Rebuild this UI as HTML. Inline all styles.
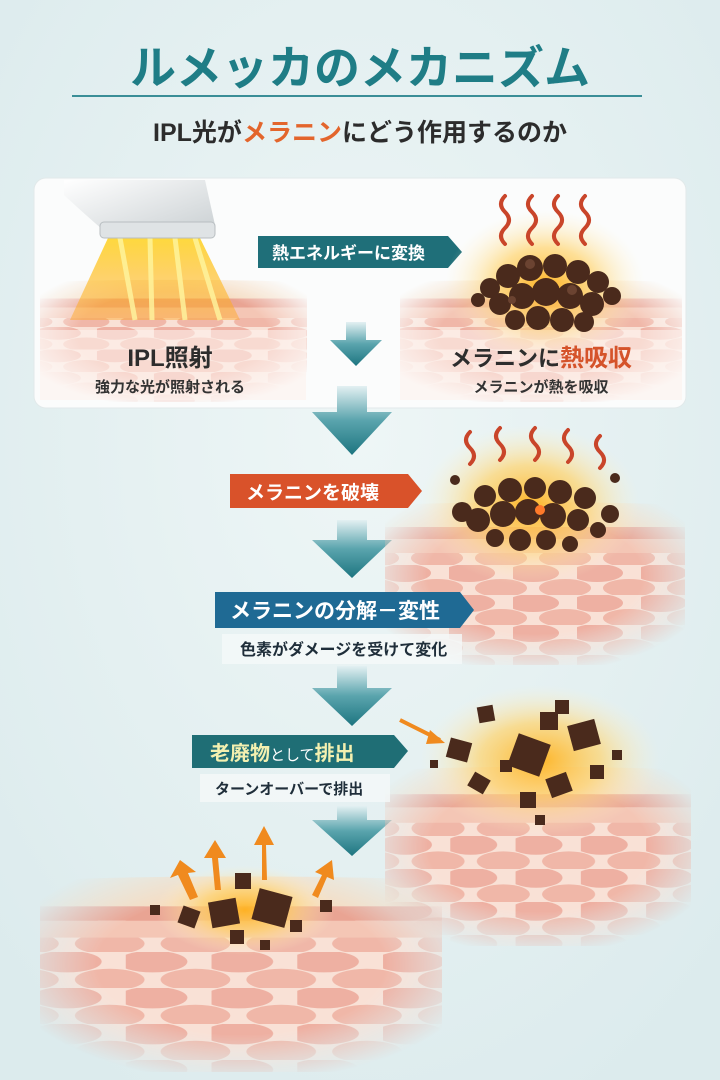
<!DOCTYPE html>
<html><head><meta charset="utf-8"><style>
html,body{margin:0;padding:0;width:720px;height:1080px;overflow:hidden;background:#e5f0f1}
svg{display:block}
text{font-family:"Liberation Sans","Noto Sans CJK JP",sans-serif;font-weight:700}
</style></head><body>
<svg width="720" height="1080" viewBox="0 0 720 1080" xmlns="http://www.w3.org/2000/svg">
<defs>
<radialGradient id="bg" cx="50%" cy="40%" r="70%"><stop offset="0" stop-color="#eef6f6"/><stop offset="1" stop-color="#dcebed"/></radialGradient>
<pattern id="cells" width="64" height="30" patternUnits="userSpaceOnUse">
<rect width="64" height="30" fill="#f9e1d6"/>
<ellipse cx="20" cy="8" rx="26" ry="9" fill="#eeb0a2"/>
<ellipse cx="52" cy="23" rx="26" ry="9" fill="#f0b7a8"/>
<ellipse cx="-12" cy="23" rx="26" ry="9" fill="#f0b7a8"/>
</pattern>
<linearGradient id="fadeV" x1="0" y1="0" x2="0" y2="1"><stop offset="0" stop-color="#fff"/><stop offset=".7" stop-color="#fff"/><stop offset="1" stop-color="#000"/></linearGradient>
<radialGradient id="soft" cx="50%" cy="45%" r="60%"><stop offset=".6" stop-color="#fff"/><stop offset="1" stop-color="#000"/></radialGradient>
<mask id="mSoft" maskContentUnits="objectBoundingBox"><rect width="1" height="1" fill="url(#soft)"/></mask>
<radialGradient id="glow" cx="50%" cy="50%" r="50%"><stop offset="0" stop-color="#ffb21e" stop-opacity=".95"/><stop offset=".5" stop-color="#ffd36b" stop-opacity=".7"/><stop offset="1" stop-color="#fff3d0" stop-opacity="0"/></radialGradient>
<linearGradient id="beam" x1="0" y1="0" x2="0" y2="1"><stop offset="0" stop-color="#ffd21c"/><stop offset="1" stop-color="#ffa21a" stop-opacity=".5"/></linearGradient>
<linearGradient id="arr" x1="0" y1="0" x2="0" y2="1"><stop offset="0" stop-color="#e3f0f2"/><stop offset=".5" stop-color="#5aa4ad"/><stop offset="1" stop-color="#1d7580"/></linearGradient>
<linearGradient id="dev" x1="0" y1="0" x2="1" y2="1"><stop offset="0" stop-color="#ffffff"/><stop offset="1" stop-color="#c9cfd2"/></linearGradient>
<g id="skin">
<rect x="0" y="0" width="300" height="160" fill="url(#cells)"/>
<path d="M0 0 Q150 -6 300 0 V22 H0Z" fill="#f5dcc2"/>
<path d="M0 22 H300 V34 H0Z" fill="#e9a493"/>
<rect x="0" y="34" width="300" height="14" fill="#f4c6b5"/>
</g>
</defs>
<rect width="720" height="1080" fill="url(#bg)"/>

<!-- Title -->
<text x="360" y="84" text-anchor="middle" font-size="46" fill="#1f7d86">ルメッカのメカニズム</text>
<rect x="72" y="95" width="570" height="2" fill="#3a8e97"/>
<text x="360" y="141" text-anchor="middle" font-size="25" fill="#2c2c2c">IPL光が<tspan fill="#e3652c">メラニン</tspan>にどう作用するのか</text>

<!-- Card -->
<rect x="34" y="178" width="652" height="230" rx="12" fill="#fbfcfc" stroke="#e2e9ea"/>
<g mask="url(#mSoft)"><g transform="translate(40,282)"><use href="#skin" transform="scale(0.89,0.75)"/></g></g>
<g mask="url(#mSoft)"><g transform="translate(400,282)"><use href="#skin" transform="scale(0.94,0.75)"/></g></g>
<rect x="40" y="330" width="266" height="70" fill="#fdf2ec" opacity=".6"/>
<rect x="400" y="330" width="282" height="70" fill="#fdf2ec" opacity=".6"/>
<!-- device & beam -->
<path d="M108 238 L200 238 L240 320 L70 320Z" fill="url(#beam)" opacity=".85"/>
<path d="M120 238 L135 320 M150 238 L152 320 M175 238 L185 320 M195 238 L220 320" stroke="#fff6a0" stroke-width="5" opacity=".8"/>
<path d="M64 180 L205 180 L215 225 Q160 240 103 230 Q80 210 64 195Z" fill="url(#dev)"/>
<rect x="100" y="222" width="115" height="16" rx="4" fill="#dfe3e5" stroke="#b8bec1"/>
<!-- teal label -->
<path d="M258 236 H448 L462 252 L448 268 H258Z" fill="#1f6f79"/>
<text x="272" y="259" font-size="17" fill="#fff" font-weight="400">熱エネルギーに変換</text>
<!-- right glow & melanin -->
<ellipse cx="545" cy="285" rx="100" ry="75" fill="url(#glow)"/>
<g stroke="#c9452a" stroke-width="4" fill="none" stroke-linecap="round">
<path d="M505 196 q-8 8 0 16 q8 8 0 16 q-8 8 0 16"/><path d="M532 196 q-8 8 0 16 q8 8 0 16 q-8 8 0 16"/>
<path d="M558 196 q-8 8 0 16 q8 8 0 16 q-8 8 0 16"/><path d="M585 196 q-8 8 0 16 q8 8 0 16 q-8 8 0 16"/></g>
<g fill="#4a2a1c">
<circle cx="490" cy="288" r="10"/><circle cx="508" cy="276" r="12"/><circle cx="530" cy="268" r="13"/><circle cx="555" cy="266" r="12"/><circle cx="578" cy="272" r="12"/><circle cx="598" cy="282" r="11"/>
<circle cx="500" cy="304" r="11"/><circle cx="522" cy="296" r="13"/><circle cx="546" cy="292" r="14"/><circle cx="570" cy="296" r="13"/><circle cx="592" cy="304" r="12"/><circle cx="612" cy="296" r="9"/>
<circle cx="515" cy="320" r="10"/><circle cx="538" cy="318" r="12"/><circle cx="562" cy="320" r="12"/><circle cx="584" cy="322" r="10"/><circle cx="478" cy="300" r="7"/>
</g>
<g fill="#6b4331"><circle cx="530" cy="264" r="5"/><circle cx="572" cy="290" r="5"/><circle cx="512" cy="300" r="4"/></g>
<!-- labels in card -->
<text x="170" y="366" text-anchor="middle" font-size="24" fill="#2d2d2d">IPL照射</text>
<text x="170" y="392" text-anchor="middle" font-size="15" fill="#333" font-weight="400">強力な光が照射される</text>
<text x="541" y="366" text-anchor="middle" font-size="22" fill="#2d2d2d">メラニンに<tspan fill="#d5532a" font-size="24">熱吸収</tspan></text>
<text x="541" y="392" text-anchor="middle" font-size="15" fill="#333" font-weight="400">メラニンが熱を吸収</text>
<!-- small arrow in card -->
<path d="M346 322 H366 V340 H382 L356 366 L330 340 H346Z" fill="url(#arr)"/>
<!-- big arrows -->
<path d="M337 386 H367 V412 H392 L352 455 L312 412 H337Z" fill="url(#arr)"/>
<path d="M337 520 H367 V540 H392 L352 578 L312 540 H337Z" fill="url(#arr)"/>
<path d="M337 666 H367 V688 H392 L352 726 L312 688 H337Z" fill="url(#arr)"/>
<path d="M337 806 H367 V820 H392 L352 856 L312 820 H337Z" fill="url(#arr)"/>

<!-- Stage 2 panel -->
<g mask="url(#mSoft)"><g transform="translate(385,505)"><use href="#skin" transform="scale(1,1)"/></g></g>
<ellipse cx="530" cy="505" rx="110" ry="80" fill="url(#glow)"/>
<g stroke="#c9452a" stroke-width="4" fill="none" stroke-linecap="round">
<path d="M470 432 q-8 8 0 16 q8 8 0 16"/><path d="M500 428 q-8 8 0 16 q8 8 0 16"/><path d="M535 428 q-8 8 0 16 q8 8 0 16"/><path d="M568 430 q-8 8 0 16 q8 8 0 16"/><path d="M600 436 q-8 8 0 16 q8 8 0 16"/></g>
<g fill="#4a2a1c">
<circle cx="462" cy="512" r="10"/><circle cx="485" cy="496" r="11"/><circle cx="510" cy="490" r="12"/><circle cx="535" cy="488" r="11"/><circle cx="560" cy="492" r="12"/><circle cx="585" cy="498" r="11"/><circle cx="610" cy="514" r="9"/>
<circle cx="478" cy="520" r="12"/><circle cx="503" cy="514" r="13"/><circle cx="528" cy="512" r="13"/><circle cx="553" cy="516" r="13"/><circle cx="578" cy="520" r="11"/><circle cx="598" cy="530" r="8"/>
<circle cx="495" cy="538" r="9"/><circle cx="520" cy="540" r="11"/><circle cx="546" cy="540" r="10"/><circle cx="570" cy="544" r="8"/><circle cx="455" cy="480" r="5"/><circle cx="615" cy="478" r="5"/></g>
<circle cx="540" cy="510" r="5" fill="#ff7a2a"/>
<path d="M230 474 H408 L422 491 L408 508 H230Z" fill="#d9522a"/>
<text x="246" y="499" font-size="19" fill="#fff" font-weight="400">メラニンを破壊</text>

<!-- Stage 3 box -->
<path d="M215 592 H460 L474 610 L460 628 H215Z" fill="#1f6a94"/>
<text x="230" y="618" font-size="21" fill="#fff" font-weight="400">メラニンの分解－変性</text>
<rect x="222" y="634" width="240" height="30" fill="#f5f9f9" opacity=".8"/>
<text x="240" y="655" font-size="16" fill="#1f2e3a">色素がダメージを受けて変化</text>

<!-- Stage 4 panel -->
<g mask="url(#mSoft)"><g transform="translate(385,770)"><use href="#skin" transform="scale(1.02,1.1)"/></g></g>
<ellipse cx="540" cy="760" rx="120" ry="75" fill="url(#glow)"/>
<g fill="#4a2a1c">
<rect x="448" y="740" width="22" height="20" transform="rotate(15 459 750)"/><rect x="478" y="706" width="16" height="16" transform="rotate(-10 486 714)"/>
<rect x="512" y="738" width="34" height="34" transform="rotate(20 529 755)"/><rect x="540" y="712" width="18" height="18"/>
<rect x="570" y="722" width="28" height="26" transform="rotate(-15 584 735)"/><rect x="555" y="700" width="14" height="14"/>
<rect x="470" y="775" width="18" height="16" transform="rotate(30 479 783)"/><rect x="548" y="775" width="22" height="20" transform="rotate(-20 559 785)"/>
<rect x="520" y="792" width="16" height="16"/><rect x="590" y="765" width="14" height="14"/><rect x="500" y="760" width="12" height="12"/>
<rect x="612" y="750" width="10" height="10"/><rect x="430" y="760" width="8" height="8"/><rect x="535" y="815" width="10" height="10"/></g>
<path d="M400 720 L440 740" stroke="#f08a1e" stroke-width="4"/><path d="M445 743 L430 730 L426 744Z" fill="#f08a1e"/>
<path d="M192 735 H394 L408 751 L394 768 H192Z" fill="#1f6e75"/>
<text x="210" y="760" font-size="20" fill="#f3f0b0">老廃物<tspan fill="#fff" font-size="15" font-weight="400">として</tspan>排出</text>
<rect x="200" y="774" width="190" height="28" fill="#f5f9f9" opacity=".8"/>
<text x="215" y="794" font-size="15" fill="#1f2e3a">ターンオーバーで排出</text>

<!-- Stage 5 panel -->
<g mask="url(#mSoft)"><g transform="translate(40,880)"><use href="#skin" transform="scale(1.34,1.2)"/></g></g>
<ellipse cx="245" cy="910" rx="90" ry="45" fill="url(#glow)"/>
<g fill="#4a2a1c">
<rect x="180" y="908" width="18" height="18" transform="rotate(20 189 917)"/><rect x="210" y="900" width="28" height="26" transform="rotate(-10 224 913)"/>
<rect x="255" y="892" width="34" height="32" transform="rotate(15 272 908)"/><rect x="235" y="873" width="16" height="16"/>
<rect x="230" y="930" width="14" height="14"/><rect x="290" y="920" width="12" height="12"/><rect x="320" y="900" width="12" height="12"/>
<rect x="150" y="905" width="10" height="10"/><rect x="260" y="940" width="10" height="10"/></g>
<g fill="#f08a1e">
<path d="M190 900 L178 875 L170 878 L180 860 L196 872 L188 873 L198 897Z"/>
<path d="M215 890 L212 858 L204 858 L215 840 L226 858 L218 858 L221 890Z"/>
<path d="M262 880 L262 845 L254 845 L264 826 L274 845 L266 845 L267 880Z"/>
<path d="M312 895 L322 875 L315 872 L332 860 L334 880 L327 877 L318 898Z"/>
</g>
</svg>
</body></html>
